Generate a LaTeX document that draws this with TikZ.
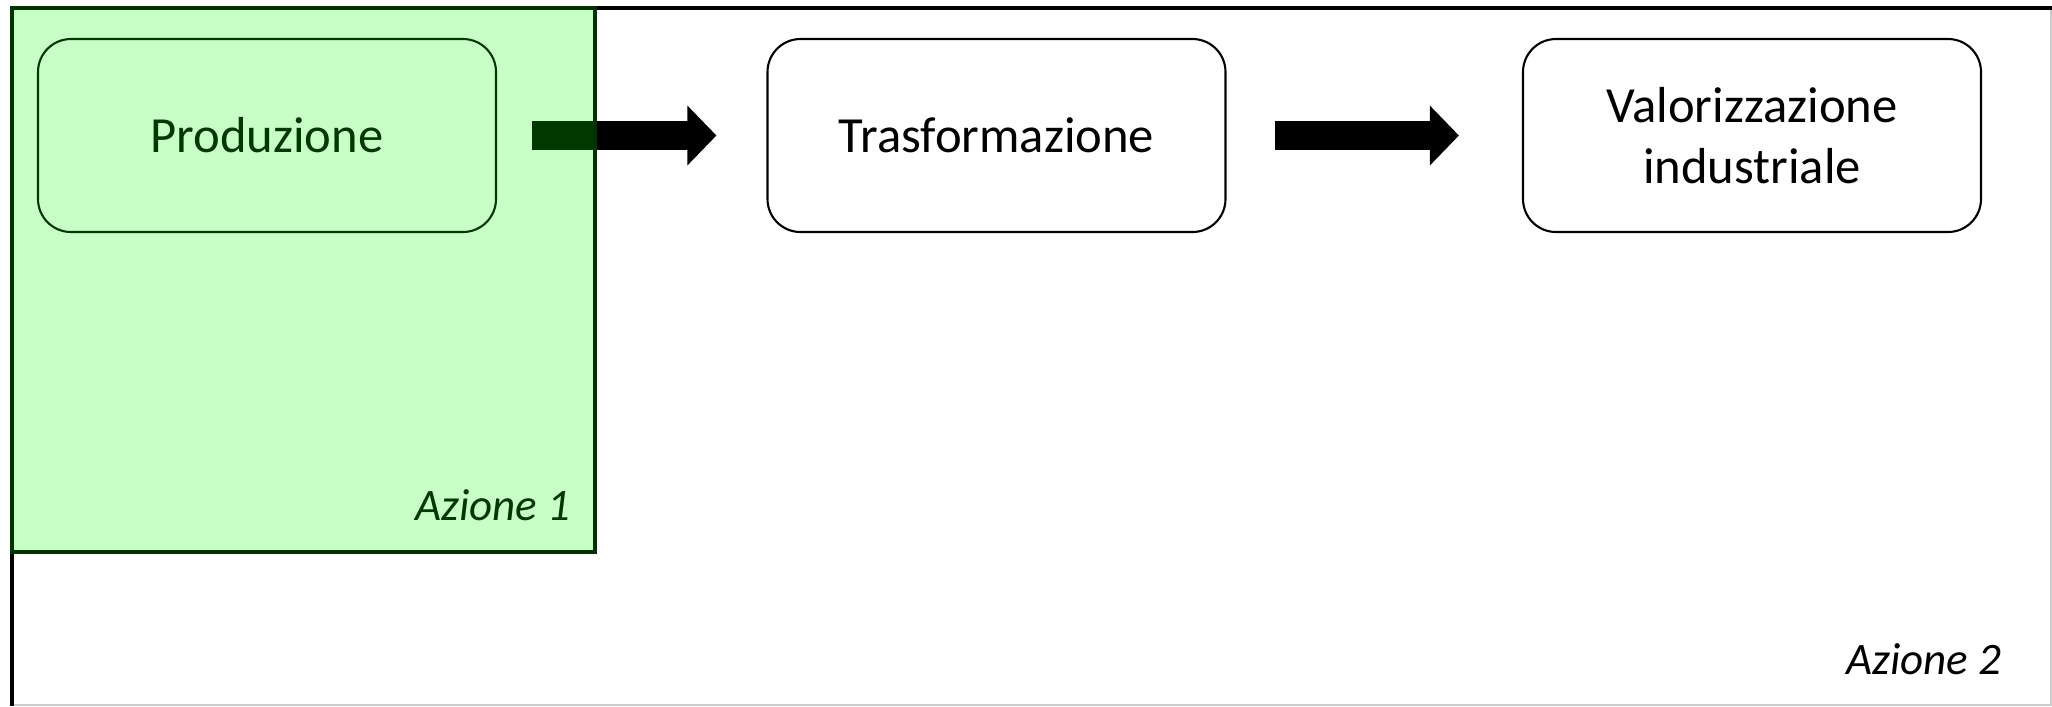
\documentclass[tikz,border=0pt]{standalone}
\usepackage{fontspec}
\setmainfont{Carlito}
\usetikzlibrary{arrows.meta}
\definecolor{verdeaz}{RGB}{0,255,0}
\definecolor{verdescuro}{RGB}{0,51,0}

\begin{document}
\begin{tikzpicture}[
  fase/.style={draw, line width=0.6pt, rounded corners=0.33cm, minimum width=4.58cm, minimum height=1.93cm, align=center, font=\fontsize{14.4}{17.5}\selectfont},
  freccia/.style={line width=0.29cm, -{Triangle[length=0.29cm,width=0.58cm]}},
  azione/.style={font=\fontsize{12.8}{15}\selectfont\itshape, inner sep=0pt}]
\useasboundingbox (0,0) rectangle (20.52,-7.06);
% cornice azione 2
\draw [black!20, thin] (20.51,-0.08) -- (20.51,-7.05) -- (0.12,-7.05);
\draw [line width=0.045cm] (20.52,-0.08) -- (0.12,-0.08) -- (0.12,-7.06);

\node [fase] (prod) at (2.67,-1.355) {Produzione};
\node [fase] (trasf) at (9.965,-1.355) {Trasformazione};
\node [fase] (valor) at (17.52,-1.355) {Valorizzazione\\industriale};

\draw [freccia, shorten <=0.35cm, shorten >=0.50cm] (prod) -- (trasf);
\draw [freccia, shorten <=0.48cm, shorten >=0.63cm] (trasf) -- (valor);

\node [azione, anchor=base east] (az1) at (5.71,-5.20) {Azione 1};
\node [azione, anchor=base east] (az2) at (20.02,-6.74) {Azione 2};

% azione 1 in verde
\fill [verdeaz, fill opacity=0.22] (0.12,-0.08) rectangle (5.95,-5.52);
\draw [verdescuro, line width=0.035cm] (0.12,-0.08) rectangle (5.95,-5.52);

\end{tikzpicture}
\end{document}
